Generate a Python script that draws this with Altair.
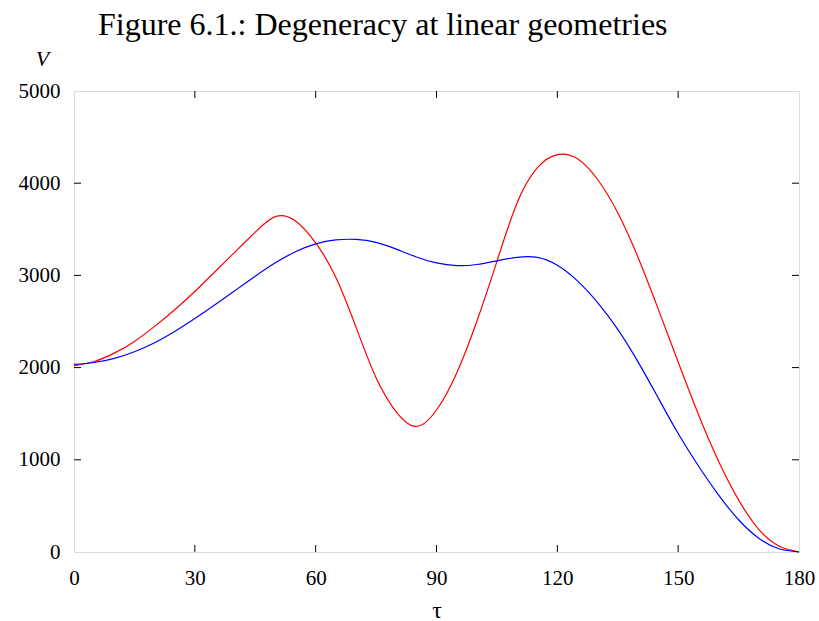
import altair as alt
import pandas as pd

# Data
tau = [0, 5, 10, 15, 20, 25, 30, 35, 40, 45, 50, 55, 60, 65, 70, 75, 80, 85, 90,
       95, 100, 105, 110, 115, 120, 125, 130, 135, 140, 145, 150, 155, 160, 165,
       170, 175, 180]
v_red = [2020, 2066, 2157, 2284, 2447, 2628, 2826, 3040, 3255, 3470, 3638, 3590,
         3352, 2980, 2440, 1890, 1520, 1362, 1540, 1940, 2500, 3152, 3786, 4166,
         4310, 4265, 4040, 3680, 3200, 2640, 2060, 1495, 988, 565, 246, 65, 0]
v_blue = [2035, 2055, 2100, 2172, 2270, 2392, 2532, 2682, 2837, 2992, 3137, 3257,
          3342, 3385, 3390, 3358, 3285, 3200, 3135, 3106, 3118, 3158, 3195, 3195,
          3110, 2940, 2705, 2415, 2065, 1675, 1285, 935, 620, 350, 150, 35, 0]

x_ticks = [0, 30, 60, 90, 120, 150, 180]
y_ticks = [0, 1000, 2000, 3000, 4000, 5000]
x_inner = [30, 60, 90, 120, 150]
y_inner = [1000, 2000, 3000, 4000]

W, H = 725, 461
TL = 7
FONT = "Liberation Serif"

rows = []
for t, r, b in zip(tau, v_red, v_blue):
    rows.append({"tau": t, "V": r, "series": "red"})
    rows.append({"tau": t, "V": b, "series": "blue"})
df = pd.DataFrame(rows)

xscale = alt.Scale(domain=[0, 180], nice=False, zero=False)
yscale = alt.Scale(domain=[0, 5000], nice=False)

xaxis = alt.Axis(values=x_ticks, format="d", title="τ", titleFont=FONT, titleFontSize=24,
                 titleFontWeight="normal", titleColor="black", titleY=58,
                 titleBaseline="middle", labelFont=FONT, labelFontSize=21,
                 labelColor="black", labelPadding=15, ticks=False, domain=False,
                 grid=False, labelFlush=False)
yaxis = alt.Axis(values=y_ticks, format="d", title="V", titleFont=FONT, titleFontSize=22,
                 titleFontStyle="italic", titleFontWeight="normal", titleColor="black",
                 titleAngle=0, titleX=-32, titleY=-33, titleAlign="center",
                 titleBaseline="middle", labelFont=FONT, labelFontSize=21,
                 labelColor="black", labelPadding=14, ticks=False, domain=False,
                 grid=False, labelFlush=False)

lines = alt.Chart(df).mark_line(strokeWidth=1.2, interpolate="natural").encode(
    x=alt.X("tau:Q", scale=xscale, axis=xaxis),
    y=alt.Y("V:Q", scale=yscale, axis=yaxis),
    color=alt.Color("series:N", scale=alt.Scale(domain=["red", "blue"],
                                                 range=["#ff0000", "#0000ff"]),
                    legend=None),
    detail="series:N",
)

xt = pd.DataFrame({"tau": x_inner})
yt = pd.DataFrame({"V": y_inner})

tick_style = dict(color="black", strokeWidth=1)
bottom_ticks = alt.Chart(xt).mark_rule(**tick_style).encode(
    x=alt.X("tau:Q", scale=xscale), y=alt.value(H), y2=alt.value(H - TL))
top_ticks = alt.Chart(xt).mark_rule(**tick_style).encode(
    x=alt.X("tau:Q", scale=xscale), y=alt.value(0), y2=alt.value(TL))
left_ticks = alt.Chart(yt).mark_rule(**tick_style).encode(
    y=alt.Y("V:Q", scale=yscale), x=alt.value(0), x2=alt.value(TL))
right_ticks = alt.Chart(yt).mark_rule(**tick_style).encode(
    y=alt.Y("V:Q", scale=yscale), x=alt.value(W), x2=alt.value(W - TL))

chart = alt.layer(lines, bottom_ticks, top_ticks, left_ticks, right_ticks).properties(
    width=W, height=H,
    title=alt.TitleParams("Figure 6.1.: Degeneracy at linear geometries",
                          font=FONT, fontSize=32, fontWeight="normal", color="black",
                          anchor="start", frame="group", dx=24, offset=5),
    autosize=alt.AutoSizeParams(type="none"),
    padding={"left": 74, "top": 91, "right": 20, "bottom": 69},
).configure_view(stroke="black", strokeWidth=1.2).configure(background="white")

chart.save("out.html", embed_options={"renderer": "svg", "actions": False})
